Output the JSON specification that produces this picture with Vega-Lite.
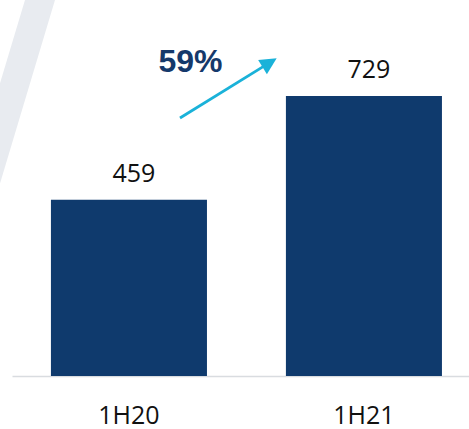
{
  "$schema": "https://vega.github.io/schema/vega-lite/v6.json",
  "width": 457,
  "height": 376,
  "autosize": {"type": "none"},
  "padding": {"left": 12, "top": 0, "right": 0, "bottom": 53},
  "background": "#ffffff",
  "config": {"view": {"stroke": null}},
  "datasets": {
    "bars": [
      {"period": "1H20", "value": 459},
      {"period": "1H21", "value": 729}
    ],
    "wedge": [
      {"y": 979, "xl": -0.4426, "xr": -0.3149},
      {"y": 458, "xl": -0.6979, "xr": -0.5702}
    ],
    "arrow": [
      {"x": 0.217, "y": 671.7},
      {"x": 0.583, "y": 810}
    ],
    "head": [
      {"x": 0.5983, "y": 815.7}
    ],
    "growth": [
      {"x": 0.2617, "y": 791.5, "label": "59%"}
    ]
  },
  "resolve": {"scale": {"x": "independent"}, "axis": {"x": "independent"}},
  "layer": [
    {
      "data": {"name": "wedge"},
      "mark": {"type": "area", "orient": "horizontal", "color": "#e8ebf0", "clip": false},
      "encoding": {
        "y": {"field": "y", "type": "quantitative", "scale": {"domain": [0, 979], "nice": false, "zero": true}, "axis": null},
        "x": {"field": "xl", "type": "quantitative", "scale": {"domain": [-0.49787, 1.44681], "nice": false, "zero": false}, "axis": null},
        "x2": {"field": "xr"}
      }
    },
    {
      "data": {"name": "bars"},
      "encoding": {
        "x": {
          "field": "period", "type": "nominal", "sort": null,
          "scale": {"domain": ["1H20", "1H21"], "paddingInner": 0.336, "paddingOuter": 0.1404, "align": 0.59},
          "axis": {
            "title": null, "labelAngle": 0, "ticks": false, "labelPadding": 47,
            "labelBaseline": "alphabetic", "labelFont": "Open Sans", "labelFontSize": 25,
            "labelColor": "#111111", "domainColor": "#d9dce0", "domainWidth": 1.5, "grid": false
          }
        },
        "y": {"field": "value", "type": "quantitative", "scale": {"domain": [0, 979], "nice": false, "zero": true}, "axis": null}
      },
      "layer": [
        {"mark": {"type": "bar", "color": "#0f3a6d"}},
        {
          "mark": {"type": "text", "font": "Open Sans", "fontSize": 25, "color": "#111111", "baseline": "alphabetic", "align": "center", "dy": -18, "dx": 5},
          "encoding": {"text": {"field": "value", "type": "quantitative"}}
        }
      ]
    },
    {
      "data": {"name": "arrow"},
      "mark": {"type": "line", "color": "#1ab2d9", "strokeWidth": 2.8},
      "encoding": {
        "x": {"field": "x", "type": "quantitative", "scale": {"domain": [-0.49787, 1.44681], "nice": false, "zero": false}, "axis": null},
        "y": {"field": "y", "type": "quantitative", "scale": {"domain": [0, 979], "nice": false, "zero": true}, "axis": null}
      }
    },
    {
      "data": {"name": "head"},
      "mark": {"type": "point", "shape": "M0,-1L-1,1L1,1Z", "filled": true, "color": "#1ab2d9", "size": 276, "angle": 58.3, "opacity": 1},
      "encoding": {
        "x": {"field": "x", "type": "quantitative", "scale": {"domain": [-0.49787, 1.44681], "nice": false, "zero": false}, "axis": null},
        "y": {"field": "y", "type": "quantitative", "scale": {"domain": [0, 979], "nice": false, "zero": true}, "axis": null}
      }
    },
    {
      "data": {"name": "growth"},
      "mark": {"type": "text", "font": "Liberation Sans", "fontWeight": "bold", "fontSize": 32, "color": "#15396b", "baseline": "alphabetic", "align": "center"},
      "encoding": {
        "x": {"field": "x", "type": "quantitative", "scale": {"domain": [-0.49787, 1.44681], "nice": false, "zero": false}, "axis": null},
        "y": {"field": "y", "type": "quantitative", "scale": {"domain": [0, 979], "nice": false, "zero": true}, "axis": null},
        "text": {"field": "label", "type": "nominal"}
      }
    }
  ]
}
